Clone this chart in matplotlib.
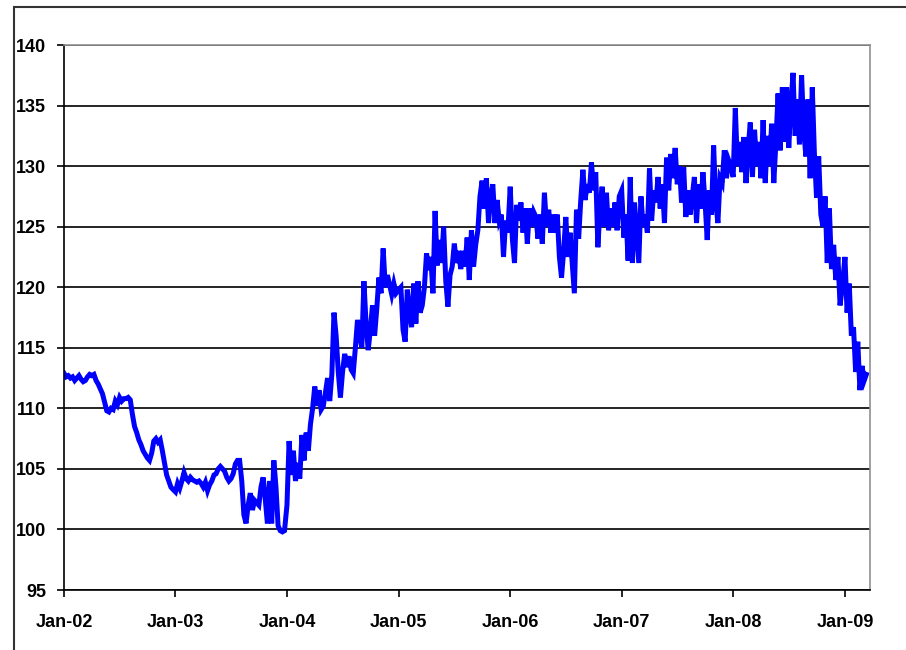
import numpy as np
import pandas as pd
import matplotlib
matplotlib.use('Agg')
import matplotlib.pyplot as plt
import matplotlib.dates as mdates
from matplotlib.patches import Rectangle

# weekly readings, one list per year (approx. 4-5 per month)
v2002 = [112.9, 112.6, 112.7, 112.5, 112.6, 112.3, 112.5, 112.7, 112.4, 112.2, 112.3, 112.6,
         112.8, 112.7, 112.8, 112.3, 112.0, 111.6, 111.2, 110.5, 109.8, 109.7, 110.0, 109.9,
         110.6, 110.3, 110.9, 110.6, 110.8, 110.8, 110.9, 110.7, 109.5, 108.5, 108.0, 107.4,
         107.0, 106.5, 106.2, 105.9, 105.7, 106.3, 107.3, 107.5, 107.2, 107.4, 106.5, 105.5,
         104.5, 104.0, 103.5, 103.3]
v2003 = [103.1, 103.8, 103.4, 104.0, 104.7, 104.2, 104.0, 104.3, 104.1, 104.0, 103.9, 104.0,
         103.8, 103.5, 103.9, 103.2, 103.7, 104.0, 104.5, 104.6, 105.0, 105.2, 105.0, 104.8,
         104.3, 104.0, 104.2, 104.6, 105.4, 105.7, 105.7, 104.0, 101.2, 100.5, 102.0, 103.0,
         101.6, 102.4, 102.2, 102.0, 103.5, 104.3, 102.5, 100.5, 104.0, 100.5, 105.7, 103.5,
         100.3, 99.9, 99.8, 99.9]
v2004 = [102.0, 107.3, 104.5, 106.5, 104.0, 105.5, 104.2, 107.8, 105.7, 108.0, 106.5, 108.7,
         110.0, 111.8, 110.2, 111.5, 109.9, 110.2, 111.3, 112.5, 110.6, 112.8, 117.9, 116.0,
         113.0, 110.9, 113.0, 114.5, 113.4, 114.3, 113.2, 112.9, 115.0, 117.3, 116.0, 115.0,
         120.5, 117.0, 114.8, 116.5, 118.5, 116.0, 118.2, 120.8, 119.5, 123.2, 120.0, 121.0,
         120.2, 119.4, 120.3, 119.5]
v2005 = [119.8, 120.0, 116.5, 115.5, 119.8, 118.0, 116.7, 120.3, 117.0, 120.5, 117.9, 118.5,
         120.0, 122.8, 121.4, 122.5, 119.5, 126.3, 121.8, 123.9, 122.0, 125.0, 120.5, 118.4,
         121.0, 121.7, 123.6, 122.0, 123.0, 121.5, 123.0, 121.7, 124.1, 120.6, 124.7, 121.7,
         123.5, 124.7, 127.5, 128.8, 126.5, 129.0, 125.3, 127.5, 128.5, 125.3, 127.2, 125.5,
         126.0, 122.5, 125.5, 124.5]
v2006 = [128.3, 124.0, 122.0, 126.8, 125.5, 127.0, 124.5, 126.5, 123.6, 126.5, 125.0, 126.2,
         125.8, 124.0, 126.0, 123.6, 127.8, 125.0, 126.4, 124.5, 126.0, 124.5, 126.0, 122.5,
         120.8, 123.0, 125.8, 122.5, 124.5, 122.0, 119.5, 126.4, 124.0, 127.2, 129.7, 127.2,
         128.5, 127.8, 130.3, 128.0, 129.5, 123.3, 126.5, 128.3, 125.0, 127.8, 124.7, 126.5,
         125.0, 127.0, 124.7, 127.5]
v2007 = [128.0, 124.1, 126.0, 122.2, 129.1, 122.0, 127.0, 124.5, 122.0, 127.5, 125.0, 126.0,
         124.5, 129.8, 125.5, 128.0, 127.0, 129.1, 126.5, 128.5, 125.3, 130.7, 128.0, 131.0,
         129.0, 131.5, 128.5, 130.0, 127.0, 129.9, 125.8, 128.0, 126.0, 127.5, 129.1, 125.3,
         128.5, 126.5, 129.5, 127.0, 123.9, 128.0, 126.0, 131.7, 127.0, 125.3, 129.0, 128.6,
         131.3, 129.0, 130.5, 130.0]
v2008 = [129.1, 134.8, 130.0, 132.0, 129.5, 132.4, 128.6, 131.5, 133.6, 129.1, 133.0, 130.0,
         132.0, 129.0, 133.8, 128.6, 132.5, 130.0, 133.5, 128.6, 132.0, 136.0, 131.3, 136.5,
         132.0, 136.5, 131.5, 135.0, 137.7, 132.5, 135.5, 131.8, 137.5, 133.0, 130.8, 135.5,
         129.0, 136.5, 131.0, 127.4, 130.8, 126.0, 125.0, 127.5, 122.0, 126.5, 121.5, 123.5,
         120.6, 122.5, 118.5, 120.0]
v2009 = [122.5, 117.9, 120.3, 116.0, 116.7, 113.0, 115.5, 111.5, 113.5, 112.3, 112.8]

years = [2002, 2003, 2004, 2005, 2006, 2007, 2008, 2009]
series = [v2002, v2003, v2004, v2005, v2006, v2007, v2008, v2009]

dates = []
values = []
for yr, vals in zip(years, series):
    dates.extend(pd.date_range(f'{yr}-01-01', periods=len(vals), freq='7D'))
    values.extend(vals)
dates = pd.DatetimeIndex(dates)

plt.rcParams['font.family'] = ['Liberation Sans', 'DejaVu Sans']

fig = plt.figure(figsize=(9.06, 6.5), dpi=100)
ax = fig.add_axes([64 / 906, 1 - 590 / 650, (870 - 64) / 906, (590 - 45) / 650])

ax.plot(dates, values, color='#0000FF', linewidth=3.6, solid_joinstyle='miter')

ax.set_ylim(95, 140)
ax.set_yticks(np.arange(95, 141, 5))
ax.set_xlim(pd.Timestamp('2002-01-01'), pd.Timestamp('2009-03-24'))
xt = [pd.Timestamp(f'{y}-01-01') for y in years]
ax.set_xticks(xt)
ax.xaxis.set_major_formatter(mdates.DateFormatter('%b-%y'))

ax.yaxis.grid(True, color='black', linewidth=1.2)
ax.set_axisbelow(True)
for s in ['top', 'right']:
    ax.spines[s].set_color('#909090')
    ax.spines[s].set_linewidth(1.2)
for s in ['left', 'bottom']:
    ax.spines[s].set_color('black')
    ax.spines[s].set_linewidth(1.2)

ax.tick_params(axis='y', direction='out', length=5, width=1.2, labelsize=13, pad=8)
ax.tick_params(axis='x', direction='out', length=5, width=1.2, labelsize=13, pad=12)
for lab in ax.get_xticklabels() + ax.get_yticklabels():
    lab.set_fontweight('bold')

# outer chart frame
fig.add_artist(Rectangle((14 / 906, -0.1), 1.0, 1.1 - 7 / 650, transform=fig.transFigure,
                         fill=False, edgecolor='#333333', linewidth=1.5, clip_on=False))

fig.savefig('out.png', dpi=100)
